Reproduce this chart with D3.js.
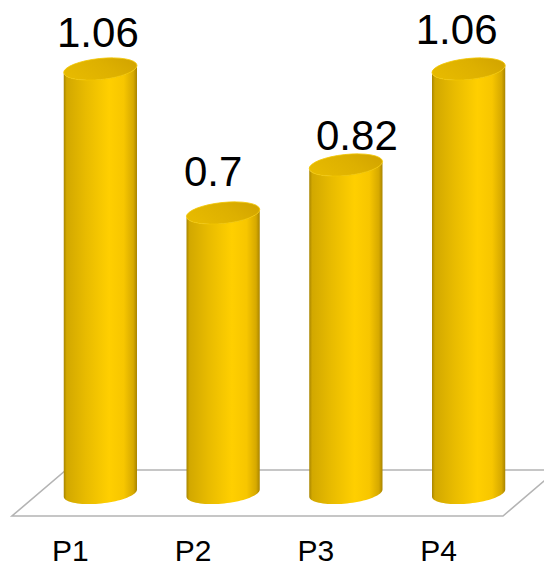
<!DOCTYPE html>
<html>
<head>
<meta charset="utf-8">
<script src="https://cdn.jsdelivr.net/npm/d3@7"></script>
<style>
  html, body { margin: 0; padding: 0; background: #fff; }
  svg { display: block; }
  text { font-family: "Liberation Sans", Arial, sans-serif; fill: #000; }
</style>
</head>
<body>
<script>
// Category names and the value of each cylinder
const categories = ["P1", "P2", "P3", "P4"];
const values = [1.06, 0.7, 0.82, 1.06];
const valueLabels = ["1.06", "0.7", "0.82", "1.06"];

// Hand-placed nudges for the value labels [dx, gap above the cap]
const labelNudge = [[-2.5, 22], [-10, 27], [11, 15], [-12, 25]];

const W = 544, H = 568;
const svg = d3.select("body").append("svg").attr("width", W).attr("height", H);

// Bars stand on the middle of a floor plane seen in perspective
const x = d3.scaleBand().domain(categories).range([39, 530]).paddingInner(0.4).paddingOuter(0.2);
const y = d3.scaleLinear().domain([0, 1]).range([493, 93]);
const depthX = 27, depthY = 23;   // half-depth of the floor
const rx = x.bandwidth() / 2, ry = 10.5, tilt = -6 * Math.PI / 180;

// Floor
const [r0, r1] = x.range();
const base = y(0);
svg.append("path")
  .attr("d", `M${r0 - depthX},${base + depthY}L${r1 - depthX},${base + depthY}L${r1 + depthX},${base - depthY}L${r0 + depthX},${base - depthY}Z`)
  .attr("fill", "#fff").attr("stroke", "#b4b4b4").attr("stroke-width", 1.6);

// Gradients for the cylinder body and cap
const defs = svg.append("defs");
const bodyGrad = defs.append("linearGradient").attr("id", "body").attr("x1", 0).attr("x2", 1).attr("y1", 0).attr("y2", 0);
[[0, "#a88500"], [0.04, "#d2a800"], [0.3, "#e8bb00"], [0.62, "#ffcf00"], [0.82, "#f7c600"], [0.95, "#d6a900"], [1, "#a98400"]]
  .forEach(([o, c]) => bodyGrad.append("stop").attr("offset", o).attr("stop-color", c));
const capGrad = defs.append("linearGradient").attr("id", "cap").attr("x1", 0).attr("x2", 1).attr("y1", 0.3).attr("y2", 0);
[[0, "#e6b900"], [0.5, "#ddb000"], [1, "#cfa100"]]
  .forEach(([o, c]) => capGrad.append("stop").attr("offset", o).attr("stop-color", c));

// Point on a tilted ellipse
function ept(cx, cy, t) {
  const ex = rx * Math.cos(t), ey = ry * Math.sin(t);
  return [cx + ex * Math.cos(tilt) - ey * Math.sin(tilt), cy + ex * Math.sin(tilt) + ey * Math.cos(tilt)];
}
function halfArc(cx, cy, from, to) {
  return d3.range(0, 41).map(i => ept(cx, cy, from + (to - from) * i / 40));
}

const bars = svg.append("g").selectAll("g").data(categories).join("g");

bars.each(function (c, i) {
  const g = d3.select(this);
  const cx = x(c) + rx;
  const top = y(values[i]);
  // body: front half of the bottom rim, up the side, front half of the cap rim back
  const bottom = halfArc(cx, base, 0, Math.PI);          // right -> left along the front
  const topArc = halfArc(cx, top, Math.PI, 0);           // left -> right along the front
  const pts = bottom.concat(topArc);
  g.append("path")
    .attr("d", d3.line()(pts) + "Z")
    .attr("fill", "url(#body)");
  // cap
  g.append("ellipse")
    .attr("cx", cx).attr("cy", top).attr("rx", rx).attr("ry", ry)
    .attr("transform", `rotate(${tilt * 180 / Math.PI},${cx},${top})`)
    .attr("fill", "url(#cap)")
    .attr("stroke", "#f2c600").attr("stroke-width", 0.8);
  // value label
  g.append("text")
    .attr("x", cx + labelNudge[i][0])
    .attr("y", top - labelNudge[i][1])
    .attr("text-anchor", "middle")
    .attr("font-size", 42)
    .text(valueLabels[i]);
});

// Category labels along the front edge of the floor
svg.append("g").selectAll("text").data(categories).join("text")
  .attr("x", c => x(c) + rx - depthX - 3)
  .attr("y", 561)
  .attr("text-anchor", "middle")
  .attr("font-size", 30)
  .text(c => c);
</script>
</body>
</html>
